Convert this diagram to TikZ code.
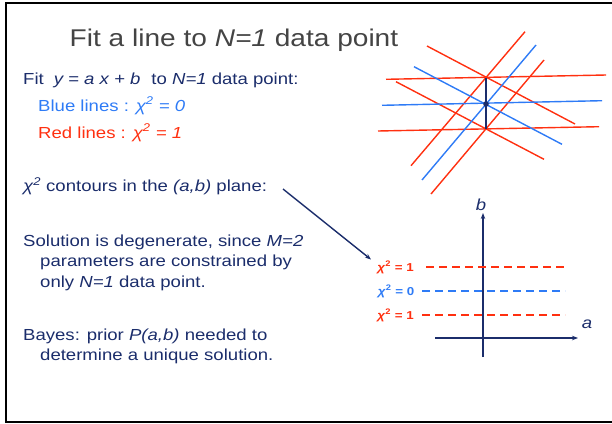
\documentclass[tikz,border=0pt]{standalone}
\usepackage{fontspec}
\setmainfont{Liberation Sans}[FakeStretch=1.16]
\usetikzlibrary{arrows.meta}
\definecolor{navy}{HTML}{1B2D6B}
\definecolor{ttl}{HTML}{444444}
\definecolor{bl}{HTML}{2E7BF6}
\definecolor{rd}{HTML}{FF3010}
\begin{document}
\begin{tikzpicture}[x=1pt,y=-1pt,
  txt/.style={anchor=base west,inner sep=0pt,font=\fontsize{16}{19}\selectfont,text=navy},
  lab/.style={anchor=east,inner sep=0pt,font=\bfseries\fontsize{11.5}{13}\selectfont},
  fitline/.style={line width=1.4pt},
  dashline/.style={line width=1.4pt,dash pattern=on 8pt off 5pt},
  axis/.style={navy,line width=1.4pt,-{Stealth[length=6pt,width=4.5pt]}}]
\useasboundingbox (0,0) rectangle (612,423);
% frame
\draw[line width=2pt] (616,3) -- (6,3) -- (6,422) -- (616,422);
% title
\node[anchor=base west,inner sep=0pt,font=\fontsize{24.2}{28}\selectfont,text=ttl] (title) at (69.5,46) {Fit a line to \textit{N=1} data point};
% text
\node[txt] (t1) at (23,84.5) {Fit\hspace{10pt}\textit{y = a x + b}\hspace{11pt}to \textit{N=1} data point:};
\node[txt,text=bl] (t2) at (38,111) {Blue lines : \textit{χ\textsuperscript{2} = 0}};
\node[txt,text=rd] (t3) at (38,138) {Red lines : \textit{χ\textsuperscript{2} = 1}};
\node[txt] (t4) at (23,191.5) {\textit{χ\textsuperscript{2}} contours in the \textit{(a,b)} plane:};
\node[txt] (t5) at (23,246) {Solution is degenerate, since \textit{M=2}};
\node[txt] (t6) at (40,266.5) {parameters are constrained by};
\node[txt] (t7) at (40,287) {only \textit{N=1} data point.};
\node[txt] (t8) at (23,340) {Bayes: prior \textit{P(a,b)} needed to};
\node[txt] (t9) at (40,360.5) {determine a unique solution.};
% arrow
\coordinate (as) at (283,189);
\coordinate (ae) at (371,259.5);
\draw[navy,line width=1.4pt,-{Stealth[length=6pt,width=4.5pt]}] (as) -- (ae);
% top-right lines
\coordinate (U) at (486,77.5);
\coordinate (P) at (486,104);
\coordinate (L) at (486,128.5);
\draw[fitline,rd] (386,79.3) -- (606,75);
\draw[fitline,rd] (427,46) -- (575,124);
\draw[fitline,rd] (411,165.7) -- (525,31.7);
\draw[fitline,rd] (378,131) -- (599,126.7);
\draw[fitline,rd] (396,81.7) -- (544,159.3);
\draw[fitline,rd] (431,194) -- (544,60);
\draw[fitline,bl] (382,105.3) -- (602,100.7);
\draw[fitline,bl] (414,66.7) -- (562,144.3);
\draw[fitline,bl] (422,180) -- (536,45);
\draw[navy,line width=2.4pt] (U) -- (L);
\fill[navy] (P) circle (2.8pt);
% axes
\coordinate (vb) at (483,357);
\coordinate (vt) at (483,213);
\coordinate (hl) at (435,338);
\coordinate (hr) at (578,338);
\draw[axis] (vb) -- (vt);
\draw[axis] (hl) -- (hr);
\node[anchor=base,inner sep=0pt,font=\itshape\fontsize{16}{19}\selectfont,text=navy] (bl) at (481,210) {b};
\node[anchor=base,inner sep=0pt,font=\itshape\fontsize{16}{19}\selectfont,text=navy] (al) at (587,328) {a};
% contours
\draw[dashline,rd] (426,267) -- (568,267);
\draw[dashline,bl] (422,291) -- (565,291);
\draw[dashline,rd] (422,315) -- (565,315);
\node[lab,text=rd] (c1) at (414,267.5) {\textit{χ}\textsuperscript{2} = 1};
\node[lab,text=bl] (c0) at (414.5,291.5) {\textit{χ}\textsuperscript{2} = 0};
\node[lab,text=rd] (c2) at (414,315.5) {\textit{χ}\textsuperscript{2} = 1};
\end{tikzpicture}
\end{document}
